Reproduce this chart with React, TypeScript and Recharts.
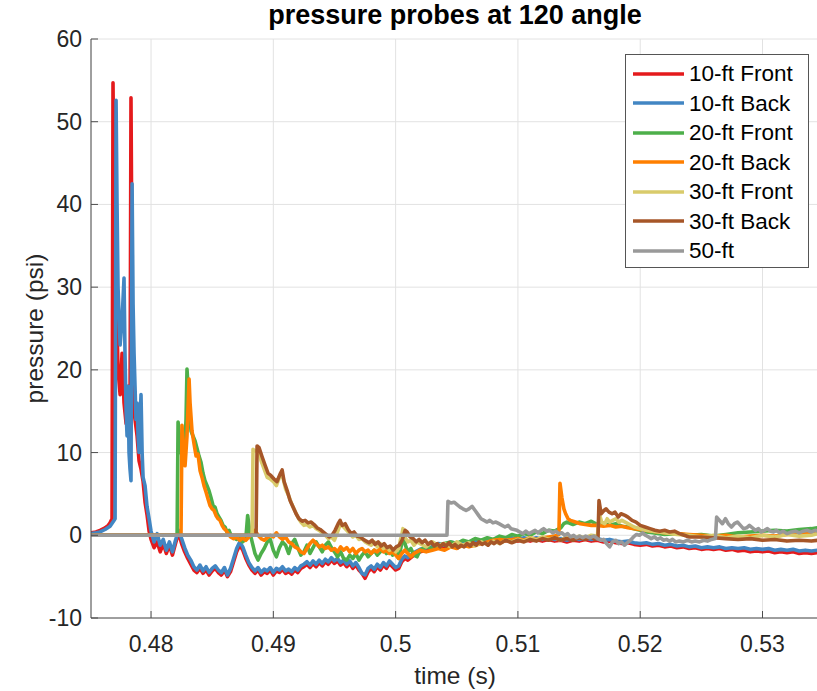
import React from 'react';
import { LineChart, Line, XAxis, YAxis, CartesianGrid, Legend } from 'recharts';

// ---------- data (time in ms, pressure in psi) ----------
const xTicks = [0.48, 0.49, 0.5, 0.51, 0.52, 0.53];
const xTickLabels = ['0.48', '0.49', '0.5', '0.51', '0.52', '0.53'];
const yTicks = [-10, 0, 10, 20, 30, 40, 50, 60];
const seriesNames = ['10-ft Front', '10-ft Back', '20-ft Front', '20-ft Back', '30-ft Front', '30-ft Back', '50-ft'];
const seriesColors = ['#E41A1C', '#4286C3', '#4DAF4A', '#FF7F00', '#D9CB6B', '#A65628', '#999999'];

const front10: [number, number][] = [
  [475.09, 0.3], [475.5, 0.4], [475.83, 0.6], [476.24, 0.9], [476.5, 1.2], [476.65, 1.5], [476.81, 2.0],
  [476.89, 54.7], [476.97, 40], [477.14, 30], [477.3, 20], [477.47, 17], [477.63, 22], [477.79, 16],
  [477.96, 13.5], [478.12, 18], [478.28, 14], [478.36, 52.9], [478.45, 30], [478.53, 16], [478.69, 14],
  [478.86, 12], [479.02, 9], [479.18, 8], [479.35, 6.5], [479.51, 4], [479.67, 2.5], [479.84, 0.5],
  [480.0, -0.5], [480.25, -1.5], [480.5, -0.8], [480.75, -2.0], [481.0, -1.0], [481.25, -2.2], [481.5, -1.2],
  [481.75, -2.4], [482.0, -1.0], [482.25, 0.3], [482.5, -1.0], [482.75, -2.0], [483.0, -2.8], [483.25, -3.5],
  [483.5, -4.2], [483.75, -4.5], [484.0, -4.0], [484.25, -4.6], [484.5, -4.2], [484.75, -4.8], [485.0, -4.3],
  [485.25, -4.0], [485.5, -4.5], [485.75, -4.8], [486.0, -4.2], [486.25, -5.0], [486.5, -4.4], [486.75, -3.2],
  [487.0, -2.0], [487.25, -1.2], [487.5, -1.8], [487.75, -2.8], [488.0, -3.6], [488.25, -4.2], [488.5, -4.6],
  [488.75, -4.2], [489.0, -4.8], [489.25, -4.4], [489.5, -4.6], [489.75, -4.2], [490.0, -4.8], [490.25, -4.3],
  [490.5, -4.5], [490.75, -4.1], [491.0, -4.6], [491.25, -4.4], [491.5, -4.7], [491.75, -4.2], [492.0, -4.5],
  [492.25, -4.0], [492.5, -3.8], [492.75, -3.5], [493.0, -3.9], [493.25, -3.4], [493.5, -3.8], [493.75, -3.3],
  [494.0, -3.7], [494.25, -3.2], [494.5, -3.5], [494.75, -3.0], [495.0, -3.4], [495.25, -3.1], [495.5, -3.6],
  [495.75, -3.3], [496.0, -3.8], [496.25, -3.4], [496.5, -4.0], [496.75, -3.6], [497.0, -4.2], [497.25, -4.6],
  [497.5, -5.2], [497.75, -4.4], [498.0, -4.0], [498.25, -4.4], [498.5, -3.8], [498.75, -4.2], [499.0, -3.6],
  [499.25, -4.0], [499.5, -3.4], [499.75, -3.8], [500.0, -4.2], [500.25, -4.0], [500.5, -3.2], [500.75, -2.8],
  [501.0, -3.0], [501.5, -2.4], [502.0, -2.0], [502.5, -1.8], [503.0, -1.5], [503.5, -1.2], [504.0, -1.4],
  [504.5, -1.0], [505.0, -1.2], [505.5, -0.9], [506.0, -1.1], [506.5, -0.8], [507.0, -0.9], [507.5, -0.7],
  [508.0, -0.8], [508.5, -0.6], [509.0, -0.7], [509.5, -0.5], [510.0, -0.7], [510.5, -0.5], [511.0, -0.7],
  [511.5, -0.5], [512.0, -0.7], [512.5, -0.5], [513.0, -0.7], [513.5, -0.6], [514.0, -0.8], [514.5, -0.6],
  [515.0, -0.7], [515.5, -0.5], [516.0, -0.7], [516.5, -0.6], [517.0, -0.8], [517.5, -0.7], [518.0, -0.9],
  [518.5, -1.0], [519.0, -0.9], [519.5, -1.1], [520.0, -1.2], [520.5, -1.1], [521.0, -1.3], [521.5, -1.2],
  [522.0, -1.4], [522.5, -1.3], [523.0, -1.5], [523.5, -1.4], [524.0, -1.6], [524.5, -1.5], [525.0, -1.7],
  [525.5, -1.6], [526.0, -1.7], [526.5, -1.6], [527.0, -1.8], [527.5, -1.7], [528.0, -1.9], [528.5, -1.8],
  [529.0, -2.0], [529.5, -1.9], [530.0, -2.0], [530.5, -1.9], [531.0, -2.1], [531.5, -2.0], [532.0, -2.1],
  [532.5, -2.0], [533.0, -2.2], [533.5, -2.1], [534.0, -2.2], [534.5, -2.1],
];

const back10: [number, number][] = [
  [475.09, 0.2], [475.5, 0.3], [475.83, 0.4], [476.24, 0.7], [476.65, 1.1], [476.97, 1.8], [477.06, 2.0],
  [477.14, 52.6], [477.22, 40], [477.3, 30], [477.47, 23], [477.63, 26], [477.79, 31.1], [477.87, 22],
  [477.96, 15], [478.04, 12], [478.12, 18], [478.2, 10], [478.28, 8], [478.36, 6.6], [478.45, 42.5],
  [478.53, 28], [478.61, 22], [478.69, 18], [478.77, 14], [478.86, 16], [478.94, 12], [479.02, 10],
  [479.1, 14], [479.18, 17], [479.27, 10], [479.35, 7], [479.51, 6], [479.67, 3.5], [479.84, 2], [480.0, 0.5],
  [480.25, -0.8], [480.5, 0.2], [480.75, -1.2], [481.0, -0.5], [481.25, -1.8], [481.5, -0.8], [481.75, -2.0],
  [482.0, -0.6], [482.25, 0.6], [482.5, -0.4], [482.75, -1.5], [483.0, -2.4], [483.25, -3.0], [483.5, -3.8],
  [483.75, -4.2], [484.0, -3.6], [484.25, -4.3], [484.5, -3.8], [484.75, -4.5], [485.0, -4.0], [485.25, -3.7],
  [485.5, -4.2], [485.75, -4.5], [486.0, -3.9], [486.25, -4.8], [486.5, -4.0], [486.75, -2.8], [487.0, -1.6],
  [487.25, -0.8], [487.5, -1.4], [487.75, -2.4], [488.0, -3.3], [488.25, -3.9], [488.5, -4.3], [488.75, -3.9],
  [489.0, -4.5], [489.25, -4.1], [489.5, -4.3], [489.75, -3.9], [490.0, -4.5], [490.25, -4.0], [490.5, -4.2],
  [490.75, -3.8], [491.0, -4.3], [491.25, -4.1], [491.5, -4.4], [491.75, -3.9], [492.0, -4.2], [492.25, -3.7],
  [492.5, -3.5], [492.75, -3.2], [493.0, -3.6], [493.25, -3.1], [493.5, -3.5], [493.75, -3.0], [494.0, -3.4],
  [494.25, -2.9], [494.5, -3.2], [494.75, -2.7], [495.0, -3.1], [495.25, -2.8], [495.5, -3.3], [495.75, -3.0],
  [496.0, -3.5], [496.25, -3.1], [496.5, -3.7], [496.75, -3.3], [497.0, -3.9], [497.25, -4.6], [497.5, -4.8],
  [497.75, -4.0], [498.0, -3.7], [498.25, -4.1], [498.5, -3.5], [498.75, -3.9], [499.0, -3.3], [499.25, -3.7],
  [499.5, -3.1], [499.75, -3.5], [500.0, -3.9], [500.25, -3.7], [500.5, -2.9], [500.75, -2.5], [501.0, -2.7],
  [501.5, -2.1], [502.0, -1.7], [502.5, -1.5], [503.0, -1.3], [503.5, -1.0], [504.0, -1.2], [504.5, -0.8],
  [505.0, -1.0], [505.5, -0.7], [506.0, -0.9], [506.5, -0.6], [507.0, -0.7], [507.5, -0.5], [508.0, -0.6],
  [508.5, -0.4], [509.0, -0.5], [509.5, -0.3], [510.0, -0.5], [510.5, -0.3], [511.0, -0.5], [511.5, -0.3],
  [512.0, -0.5], [512.5, -0.3], [513.0, -0.5], [513.5, -0.4], [514.0, -0.6], [514.5, -0.4], [515.0, -0.5],
  [515.5, -0.3], [516.0, -0.5], [516.5, -0.4], [517.0, -0.6], [517.5, -0.5], [518.0, -0.7], [518.5, -0.8],
  [519.0, -0.7], [519.5, -0.9], [520.0, -1.0], [520.5, -0.9], [521.0, -1.1], [521.5, -1.0], [522.0, -1.2],
  [522.5, -1.1], [523.0, -1.3], [523.5, -1.2], [524.0, -1.4], [524.5, -1.3], [525.0, -1.5], [525.5, -1.4],
  [526.0, -1.5], [526.5, -1.4], [527.0, -1.6], [527.5, -1.5], [528.0, -1.6], [528.5, -1.5], [529.0, -1.7],
  [529.5, -1.6], [530.0, -1.7], [530.5, -1.6], [531.0, -1.8], [531.5, -1.7], [532.0, -1.8], [532.5, -1.7],
  [533.0, -1.9], [533.5, -1.8], [534.0, -1.9], [534.5, -1.8],
];

const front20: [number, number][] = [
  [475.09, 0], [482.13, 0], [482.21, 13.7], [482.37, 11], [482.53, 9.5], [482.7, 9], [482.86, 14],
  [482.94, 20.1], [483.11, 16], [483.27, 12.6], [483.43, 12], [483.6, 11.4], [483.76, 10.5], [483.92, 9.6],
  [484.09, 8.8], [484.25, 7.5], [484.41, 6.6], [484.58, 6.0], [484.74, 5.4], [484.91, 4.5], [485.07, 3.6],
  [485.23, 3.4], [485.4, 2.6], [485.56, 2.2], [485.72, 1.8], [485.89, 1.2], [486.05, 1.0], [486.21, 0.4],
  [486.38, 0.6], [486.54, 0.0], [486.7, -0.2], [487.0, -0.5], [487.25, -0.3], [487.5, -0.8], [487.75, -0.4],
  [487.9, 2.4], [488.1, 0.2], [488.3, -1.0], [488.5, -2.2], [488.75, -3.0], [489.0, -2.2], [489.25, -1.6],
  [489.5, -0.8], [489.75, -0.5], [490.0, -1.8], [490.25, -2.6], [490.5, -1.5], [490.75, -0.8], [491.0, -1.2],
  [491.25, -2.2], [491.5, -1.0], [491.75, -0.5], [492.0, -1.5], [492.25, -2.4], [492.5, -2.0], [492.75, -1.2],
  [493.0, -2.2], [493.25, -1.5], [493.5, -0.8], [493.75, -1.4], [494.0, -2.0], [494.25, -1.2], [494.5, -0.8],
  [494.75, -1.5], [495.0, -2.0], [495.25, -2.6], [495.5, -2.0], [495.75, -2.8], [496.0, -3.0], [496.25, -2.4],
  [496.5, -2.8], [496.75, -2.2], [497.0, -3.0], [497.25, -2.4], [497.5, -2.0], [497.75, -2.6], [498.0, -2.2],
  [498.25, -1.8], [498.5, -2.4], [498.75, -2.0], [499.0, -1.6], [499.25, -2.2], [499.5, -1.8], [499.75, -2.4],
  [500.0, -2.0], [500.25, -2.8], [500.5, -1.0], [500.65, 0.3], [500.8, -1.2], [501.0, -2.0], [501.25, -1.6],
  [501.5, -2.4], [501.75, -2.6], [502.0, -1.8], [502.5, -1.4], [503.0, -1.6], [503.5, -1.2], [504.0, -1.0],
  [504.5, -0.8], [505.0, -1.0], [505.5, -0.6], [506.0, -0.8], [506.5, -0.4], [507.0, -0.6], [507.5, -0.3],
  [508.0, -0.5], [508.5, -0.1], [509.0, -0.3], [509.5, 0.1], [510.0, -0.1], [510.5, 0.2], [511.0, 0.0],
  [511.5, 0.4], [512.0, 0.2], [512.5, 0.6], [513.0, 0.5], [513.5, 0.9], [513.75, 1.4], [514.0, 1.6],
  [514.5, 1.3], [515.0, 1.6], [515.5, 1.4], [516.0, 1.7], [516.5, 1.3], [517.0, 1.5], [517.5, 1.2],
  [518.0, 1.4], [518.5, 1.1], [519.0, 1.0], [519.5, 0.8], [520.0, 0.6], [520.5, 0.4], [521.0, 0.3],
  [522.0, 0.1], [523.0, 0.2], [524.0, 0.0], [525.0, 0.1], [526.0, -0.1], [527.0, 0.1], [528.0, 0.3],
  [529.0, 0.4], [530.0, 0.5], [531.0, 0.6], [532.0, 0.5], [533.0, 0.7], [534.0, 0.8], [534.5, 0.9],
];

const back20: [number, number][] = [
  [475.09, 0], [482.45, 0], [482.53, 13.3], [482.7, 10], [482.78, 8.4], [482.94, 12], [483.11, 18.9],
  [483.19, 16], [483.35, 12.6], [483.52, 11], [483.68, 9.6], [483.84, 9.8], [484.01, 7.8], [484.17, 7.0],
  [484.33, 6.0], [484.5, 5.2], [484.66, 4.4], [484.82, 3.6], [484.99, 3.2], [485.15, 3.0], [485.31, 2.4],
  [485.48, 2.0], [485.64, 1.8], [485.81, 1.2], [485.97, 0.8], [486.13, 0.6], [486.3, 0.2], [486.5, -0.2],
  [486.75, -0.4], [487.0, -0.2], [487.25, -0.6], [487.5, -0.3], [487.75, -0.6], [488.0, -0.2], [488.25, 0.2],
  [488.5, 0.6], [488.75, 0.0], [489.0, -0.4], [489.25, -0.6], [489.5, -0.3], [489.75, 0.0], [490.0, -0.2],
  [490.25, 0.3], [490.5, -0.2], [490.75, -0.5], [491.0, -0.2], [491.25, -0.8], [491.5, -1.0], [491.75, -1.4],
  [492.0, -1.6], [492.25, -2.0], [492.5, -2.2], [492.75, -1.6], [493.0, -1.0], [493.25, -0.6], [493.5, -1.0],
  [493.75, -1.4], [494.0, -1.2], [494.25, -1.6], [494.5, -1.4], [494.75, -1.8], [495.0, -1.6], [495.25, -2.0],
  [495.5, -1.4], [495.75, -1.8], [496.0, -1.5], [496.25, -2.0], [496.5, -1.6], [496.75, -2.2], [497.0, -1.8],
  [497.25, -1.6], [497.5, -2.0], [497.75, -1.8], [498.0, -2.2], [498.25, -1.8], [498.5, -2.0], [498.75, -1.6],
  [499.0, -2.0], [499.25, -1.8], [499.5, -2.2], [499.75, -2.0], [500.0, -2.4], [500.25, -2.8], [500.5, -2.2],
  [500.75, -1.8], [501.0, -2.2], [501.25, -2.6], [501.5, -2.2], [501.75, -2.0], [502.0, -1.8], [502.5, -2.0],
  [503.0, -1.8], [503.5, -1.6], [504.0, -1.8], [504.5, -1.4], [505.0, -1.6], [505.5, -1.2], [506.0, -1.4],
  [506.5, -1.2], [507.0, -1.0], [507.5, -0.8], [508.0, -0.6], [508.5, -0.5], [509.0, -0.6], [509.5, -0.5],
  [510.0, -0.4], [510.5, -0.6], [511.0, -0.3], [511.5, -0.5], [512.0, -0.3], [512.5, -0.2], [513.0, -0.1],
  [513.35, 0.1], [513.44, 6.3], [513.6, 4.5], [513.76, 3.2], [513.9, 2.6], [514.1, 2.0], [514.3, 1.8],
  [514.7, 1.6], [515.1, 1.4], [515.5, 1.3], [516.0, 1.2], [516.5, 1.2], [517.0, 1.1], [517.5, 1.2],
  [518.0, 1.0], [518.5, 1.1], [519.0, 0.9], [519.5, 0.8], [520.0, 0.7], [521.0, 0.5], [522.0, 0.3],
  [523.0, 0.2], [524.0, 0.1], [525.0, 0.0], [526.0, -0.1], [527.0, 0.0], [528.0, -0.2], [529.0, -0.1],
  [530.0, 0.0], [531.0, -0.1], [532.0, 0.1], [533.0, 0.2], [534.0, 0.3], [534.5, 0.3],
];

const front30: [number, number][] = [
  [475.09, 0], [488.26, 0], [488.34, 10.4], [488.5, 10.2], [488.75, 10.3], [489.0, 9.0], [489.25, 8.0],
  [489.5, 7.0], [489.75, 6.8], [490.0, 6.5], [490.25, 6.0], [490.5, 7.0], [490.75, 7.2], [491.0, 5.6],
  [491.25, 4.8], [491.5, 3.8], [491.75, 3.0], [492.0, 2.2], [492.25, 1.6], [492.5, 1.2], [492.75, 1.3],
  [493.0, 1.0], [493.25, 1.2], [493.5, 0.8], [493.75, 0.6], [494.0, 0.3], [494.25, 0.0], [494.5, -0.4],
  [494.75, -0.2], [495.0, -0.6], [495.25, 0.4], [495.5, 1.4], [495.75, 1.0], [496.0, 0.6], [496.25, 0.2],
  [496.5, -0.2], [496.75, 0.0], [497.0, -0.5], [497.25, -0.4], [497.5, -0.8], [497.75, -1.0], [498.0, -1.2],
  [498.25, -0.8], [498.5, -1.4], [498.75, -1.0], [499.0, -1.6], [499.25, -1.4], [499.5, -1.8], [499.75, -1.6],
  [500.0, -2.0], [500.25, -1.6], [500.4, -0.5], [500.5, 0.0], [500.6, 0.8], [500.75, -0.2], [501.0, -0.8],
  [501.25, -0.6], [501.5, -1.2], [501.75, -0.8], [502.0, -1.0], [502.5, -1.4], [503.0, -0.8], [503.5, -1.2],
  [504.0, -1.0], [504.5, -1.4], [505.0, -0.8], [505.5, -1.2], [506.0, -0.9], [506.5, -1.3], [507.0, -0.8],
  [507.5, -1.1], [508.0, -0.7], [508.5, -1.0], [509.0, -0.6], [509.5, -0.8], [510.0, -0.5], [510.5, -0.7],
  [511.0, -0.3], [511.5, -0.6], [512.0, -0.2], [512.5, -0.5], [513.0, -0.3], [513.5, -0.6], [514.0, -0.2],
  [514.5, -0.4], [515.0, -0.1], [515.5, -0.3], [516.0, 0.0], [516.5, -0.1], [516.65, 2.6], [516.85, 1.6],
  [517.1, 1.4], [517.3, 2.0], [517.5, 1.6], [517.75, 1.8], [518.0, 2.0], [518.25, 1.6], [518.5, 1.8],
  [519.0, 1.4], [519.5, 1.0], [520.0, 0.8], [520.5, 0.6], [521.0, 0.5], [522.0, 0.3], [523.0, 0.1],
  [524.0, 0.0], [525.0, -0.2], [526.0, 0.0], [527.0, -0.3], [528.0, -0.1], [529.0, -0.3], [530.0, 0.0],
  [531.0, -0.2], [532.0, 0.1], [533.0, -0.1], [534.0, 0.0], [534.5, 0.2],
];

const back30: [number, number][] = [
  [475.09, 0], [488.59, 0], [488.67, 10.8], [488.83, 10.6], [489.08, 9.5], [489.32, 8.5], [489.57, 7.5],
  [489.81, 7.2], [490.06, 6.8], [490.3, 6.5], [490.55, 7.4], [490.72, 7.9], [490.88, 6.5], [491.13, 5.4],
  [491.37, 4.2], [491.62, 3.4], [491.86, 2.6], [492.1, 2.0], [492.35, 1.7], [492.6, 1.8], [492.84, 1.5],
  [493.09, 1.6], [493.33, 1.3], [493.58, 0.9], [493.83, 0.7], [494.07, 0.4], [494.32, 0.1], [494.56, -0.2],
  [494.8, 0.0], [495.05, 0.6], [495.3, 1.4], [495.46, 1.8], [495.63, 1.2], [495.87, 1.4], [496.12, 0.7],
  [496.37, 0.2], [496.6, 0.4], [496.85, -0.1], [497.1, -0.2], [497.35, -0.5], [497.6, -0.7], [497.83, -0.9],
  [498.08, -0.6], [498.32, -1.1], [498.57, -0.8], [498.81, -1.3], [499.06, -1.0], [499.3, -1.5], [499.55, -1.3],
  [499.8, -1.8], [500.04, -1.4], [500.29, -1.2], [500.53, -0.6], [500.78, 0.6], [500.94, 0.4], [501.19, -0.2],
  [501.43, -0.4], [501.68, -0.8], [501.92, -0.5], [502.17, -0.9], [502.41, -0.6], [502.66, -1.1], [502.9, -0.8],
  [503.15, -1.3], [503.4, -1.0], [503.64, -1.4], [503.9, -1.0], [504.13, -1.3], [504.37, -0.9], [504.62, -1.4],
  [504.86, -1.1], [505.11, -1.5], [505.35, -1.2], [505.6, -1.4], [505.84, -1.0], [506.1, -1.3], [506.33, -0.9],
  [506.58, -1.2], [506.82, -0.8], [507.07, -1.1], [507.3, -0.9], [507.56, -1.2], [507.8, -0.8], [508.05, -1.0],
  [508.3, -0.7], [508.54, -1.0], [509.0, -0.6], [509.5, -0.9], [510.0, -0.6], [510.5, -0.8], [511.0, -0.5],
  [511.5, -0.7], [512.0, -0.4], [512.5, -0.6], [513.0, -0.3], [513.5, -0.6], [514.0, -0.4], [514.5, -0.6],
  [515.0, -0.3], [515.5, -0.5], [516.0, -0.2], [516.3, -0.5], [516.55, -0.3], [516.63, 4.2], [516.8, 2.6],
  [517.04, 3.0], [517.2, 3.2], [517.45, 2.8], [517.7, 2.6], [517.94, 2.8], [518.2, 2.2], [518.43, 2.6],
  [518.76, 2.4], [519.0, 2.2], [519.33, 1.8], [519.66, 1.6], [520.0, 1.2], [520.4, 1.0], [520.8, 0.8],
  [521.2, 0.6], [521.6, 0.5], [522.0, 0.6], [522.4, 0.4], [522.8, 0.5], [523.2, 0.2], [523.6, 0.0],
  [524.0, -0.2], [525.0, -0.2], [526.0, -0.3], [527.0, -0.4], [528.0, -0.5], [529.0, -0.4], [530.0, -0.6],
  [531.0, -0.5], [532.0, -0.7], [533.0, -0.6], [534.0, -0.7], [534.5, -0.6],
];

const probe50: [number, number][] = [
  [475.09, 0], [504.2, 0], [504.28, 4.1], [504.53, 3.9], [504.78, 4.0], [505.02, 3.7], [505.27, 3.4],
  [505.5, 3.2], [505.76, 3.0], [506.0, 3.2], [506.25, 3.5], [506.5, 3.0], [506.74, 2.5], [506.98, 2.0],
  [507.23, 1.8], [507.48, 1.6], [507.7, 1.8], [507.96, 1.5], [508.2, 1.6], [508.45, 1.4], [508.7, 1.2],
  [508.94, 1.0], [509.2, 1.2], [509.43, 0.8], [509.67, 0.7], [509.92, 0.6], [510.16, 0.4], [510.4, 0.2],
  [510.65, 0.5], [510.9, 0.2], [511.14, 0.4], [511.4, 0.6], [511.63, 0.3], [511.9, 0.6], [512.1, 0.8],
  [512.36, 0.5], [512.6, 0.6], [512.85, 0.3], [513.1, 0.5], [513.34, 0.2], [513.6, 0.3], [513.83, 0.0],
  [514.07, 0.2], [514.3, -0.2], [514.56, 0.0], [514.8, -0.3], [515.05, -0.1], [515.3, -0.3], [515.54, -0.1],
  [515.87, -0.3], [516.2, -0.1], [516.5, -0.4], [516.76, -0.6], [517.0, -0.5], [517.25, -1.0], [517.5, -1.4],
  [517.74, -0.8], [518.0, -0.6], [518.23, -1.0], [518.47, -0.8], [518.72, -1.2], [518.96, -0.9], [519.2, -0.6],
  [519.45, -0.2], [519.7, 0.1], [519.94, 0.0], [520.2, 0.3], [520.43, 0.0], [520.68, -0.2], [520.9, -0.4],
  [521.17, -0.2], [521.4, -0.5], [521.66, -0.3], [521.9, -0.6], [522.15, -0.5], [522.4, -0.7], [522.64, -0.5],
  [522.9, -0.8], [523.2, -0.7], [523.54, -0.8], [523.87, -0.6], [524.2, -0.8], [524.5, -0.7], [524.85, -0.8],
  [525.2, -0.6], [525.5, -0.7], [525.83, -0.5], [526.15, -0.4], [526.25, 2.2], [526.48, 1.8], [526.72, 1.4],
  [526.97, 2.0], [527.2, 1.4], [527.46, 1.0], [527.7, 1.4], [527.95, 1.6], [528.2, 1.2], [528.44, 0.8],
  [528.7, 0.9], [528.93, 1.2], [529.18, 0.9], [529.42, 0.6], [529.67, 0.8], [529.9, 0.4], [530.16, 0.6],
  [530.4, 0.8], [530.65, 0.5], [530.9, 0.4], [531.14, 0.6], [531.4, 0.3], [531.7, 0.5], [532.0, 0.2],
  [532.36, 0.4], [532.7, 0.5], [533.0, 0.3], [533.34, 0.5], [533.67, 0.6], [534.0, 0.4], [534.3, 0.6],
  [534.5, 0.5],
];

const seriesPoints = [front10, back10, front20, back20, front30, back30, probe50];

// ---------- layout ----------
const CHART_W = 820;
const CHART_H = 691;
const PLOT_LEFT = 91;
const PLOT_TOP = 39;
const PLOT_BOTTOM = 618;
const AXIS_COLOR = '#4d4d4d';
const TEXT_COLOR = '#262626';
const FONT = '"Liberation Sans", Arial, Helvetica, sans-serif';
const TICK_FONT = 23;
const LINE_W = 3.6;

const toRows = (pts: [number, number][]) => pts.map(([ms, p]) => ({ t: ms / 1000, p }));
const seriesData = seriesPoints.map(toRows);

const BottomTick = (props: any) => {
  const { x, payload } = props;
  const idx = xTicks.findIndex((v) => Math.abs(v - payload.value) < 1e-9);
  return (
    <g>
      <line x1={x} x2={x} y1={PLOT_BOTTOM} y2={PLOT_BOTTOM - 7} stroke={AXIS_COLOR} strokeWidth={1} />
      <text x={x} y={PLOT_BOTTOM + 34} textAnchor="middle" fontSize={TICK_FONT} fill={TEXT_COLOR} fontFamily={FONT}>
        {idx >= 0 ? xTickLabels[idx] : String(payload.value)}
      </text>
    </g>
  );
};

const TopTick = (props: any) => {
  const { x } = props;
  return <line x1={x} x2={x} y1={PLOT_TOP} y2={PLOT_TOP + 7} stroke={AXIS_COLOR} strokeWidth={1} />;
};

const LeftTick = (props: any) => {
  const { y, payload } = props;
  return (
    <g>
      <line x1={PLOT_LEFT} x2={PLOT_LEFT + 7} y1={y} y2={y} stroke={AXIS_COLOR} strokeWidth={1} />
      <text x={PLOT_LEFT - 9} y={y + 8} textAnchor="end" fontSize={TICK_FONT} fill={TEXT_COLOR} fontFamily={FONT}>
        {String(payload.value)}
      </text>
    </g>
  );
};

const LegendBox = () => (
  <div
    style={{
      width: 184,
      height: 214,
      boxSizing: 'border-box',
      border: '1px solid #555',
      background: '#fff',
      paddingTop: 4,
      fontFamily: FONT,
    }}
  >
    {seriesNames.map((name, i) => (
      <div key={name} style={{ height: 29.5, display: 'flex', alignItems: 'center' }}>
        <svg width={63} height={10} style={{ display: 'block', flex: 'none' }}>
          <line x1={7} x2={58} y1={5} y2={5} stroke={seriesColors[i]} strokeWidth={LINE_W} />
        </svg>
        <span style={{ fontSize: 22.5, color: '#000', lineHeight: '29.5px', whiteSpace: 'nowrap' }}>{name}</span>
      </div>
    ))}
  </div>
);

export default function App() {
  return (
    <div style={{ position: 'absolute', left: 0, top: 0, width: 817, height: 691, overflow: 'hidden', background: '#fff' }}>
      <LineChart width={CHART_W} height={CHART_H} margin={{ top: PLOT_TOP, right: 1, bottom: 0, left: 0 }}>
        <CartesianGrid stroke="#e2e2e2" strokeWidth={1} />
        <XAxis
          dataKey="t"
          type="number"
          domain={[0.47509, 0.53462]}
          allowDataOverflow
          ticks={xTicks}
          tick={BottomTick}
          tickLine={false}
          height={CHART_H - PLOT_BOTTOM}
          axisLine={{ stroke: AXIS_COLOR }}
          interval={0}
        />
        <XAxis
          xAxisId="top"
          orientation="top"
          dataKey="t"
          type="number"
          domain={[0.47509, 0.53462]}
          allowDataOverflow
          ticks={xTicks}
          tick={TopTick}
          tickLine={false}
          height={0}
          axisLine={{ stroke: AXIS_COLOR }}
          interval={0}
        />
        <YAxis
          type="number"
          domain={[-10, 60]}
          ticks={yTicks}
          tick={LeftTick}
          tickLine={false}
          width={PLOT_LEFT}
          axisLine={{ stroke: AXIS_COLOR }}
          interval={0}
          allowDataOverflow
        />
        {seriesData.map((d, i) => (
          <Line
            key={seriesNames[i]}
            data={d}
            dataKey="p"
            name={seriesNames[i]}
            type="linear"
            stroke={seriesColors[i]}
            strokeWidth={LINE_W}
            strokeLinejoin="round"
            dot={false}
            activeDot={false}
            isAnimationActive={false}
          />
        ))}
        <Legend
          layout="vertical"
          align="center"
          verticalAlign="middle"
          content={LegendBox}
          wrapperStyle={{ left: 625, top: 54, width: 184, height: 214, right: 'auto', bottom: 'auto' }}
        />
        <text x={455} y={24} textAnchor="middle" fontSize={27} fontWeight="bold" fill="#000" fontFamily={FONT}>
          pressure probes at 120 angle
        </text>
        <text x={455} y={684} textAnchor="middle" fontSize={24.5} fill={TEXT_COLOR} fontFamily={FONT}>
          time (s)
        </text>
        <text
          x={0}
          y={0}
          transform={`translate(43, ${(PLOT_TOP + PLOT_BOTTOM) / 2}) rotate(-90)`}
          textAnchor="middle"
          fontSize={24.5}
          fill={TEXT_COLOR}
          fontFamily={FONT}
        >
          pressure (psi)
        </text>
      </LineChart>
    </div>
  );
}
